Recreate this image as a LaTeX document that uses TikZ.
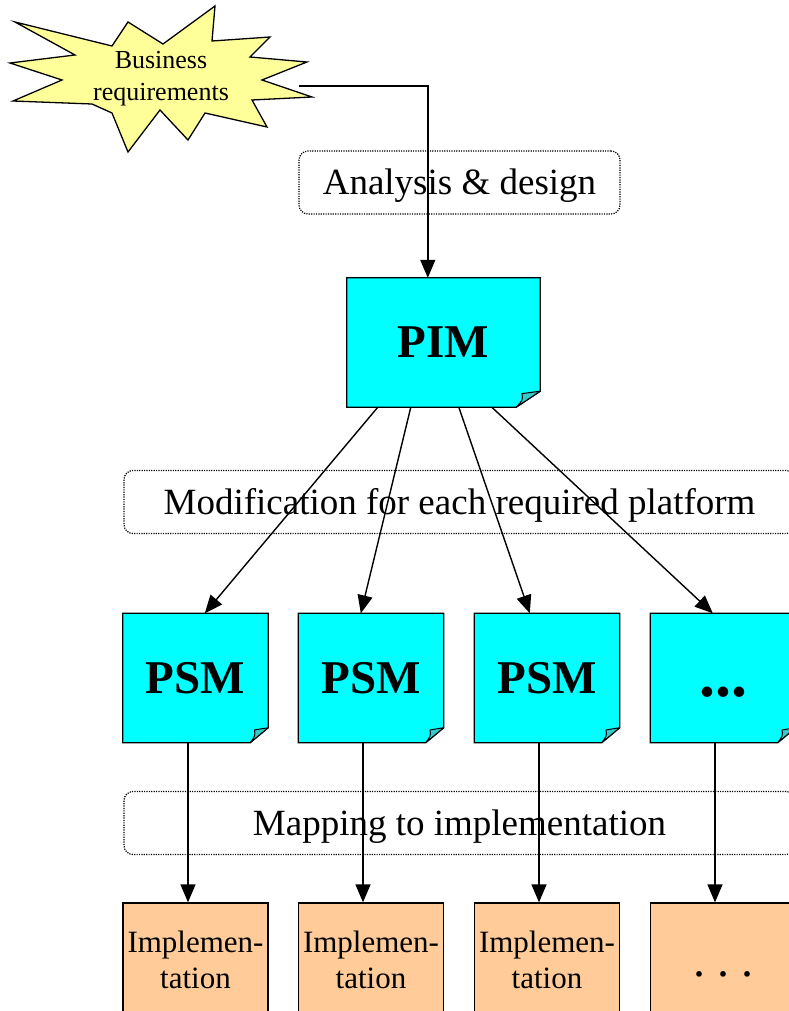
\documentclass[tikz,border=0pt]{standalone}
\usepackage{fontspec}
\setmainfont{Liberation Serif}
\usetikzlibrary{arrows.meta,calc,backgrounds}
\definecolor{notefill}{HTML}{00FFFF}
\definecolor{flapfill}{HTML}{33CCCC}
\definecolor{implfill}{HTML}{FFCC99}
\definecolor{starfill}{HTML}{FFFF99}
% note with a turned-down corner at the lower right: node, corner width, corner height
\newcommand\notebox[3]{%
  \draw[line width=1.3pt, fill=notefill, line join=miter] (#1.north west) -- (#1.north east)
    -- ($(#1.south east)+(0,-#3)$) -- ($(#1.south east)+(-#2,0)$) -- (#1.south west) -- cycle;
  \draw[line width=1pt, fill=flapfill, line join=round] ($(#1.south east)+(-#2,0)$)
    .. controls ($(#1.south east)+(-0.72*#2,-0.45*#3)$) .. ($(#1.south east)+(-0.76*#2,-0.85*#3)$)
    -- ($(#1.south east)+(0,-#3)$) -- cycle;
}
\begin{document}
\begin{tikzpicture}[x=1pt,y=-1pt,
  arr/.style={draw=black, line width=1.4pt, -{Triangle[length=18pt,width=15pt]}},
  phase/.style={draw=black, line width=1.2pt, dash pattern=on 1.2pt off 1.2pt,
    rounded corners=9pt, minimum height=63pt, inner sep=0pt,
    text height=26pt, text depth=1.6pt,
    font=\fontsize{37}{40}\selectfont},
  model/.style={minimum width=145pt, minimum height=129pt, inner sep=0pt,
    font=\bfseries\fontsize{47}{50}\selectfont},
  impl/.style={draw=black, line width=1.3pt, fill=implfill, minimum width=145pt,
    minimum height=114pt, inner sep=0pt, align=center,
    font=\fontsize{31}{36}\selectfont},
]
\useasboundingbox (0,0) rectangle (789,1011);

% starburst
\draw[line width=1.3pt, fill=starfill, line join=miter]
  (15,22) -- (112,46) -- (128,22) -- (163,44) -- (215,6) -- (212,41) -- (270,37)
  -- (250,57) -- (307,62) -- (262,80) -- (312,97) -- (252,100) -- (267,127)
  -- (205,113) -- (188,140) -- (160,110) -- (128,152) -- (112,113) -- (92,104)
  -- (13,101) -- (62,80) -- (10,63) -- (75,55) -- cycle;
\node[font=\fontsize{26}{32}\selectfont, align=center, inner sep=0pt] (biz) at (161,79) {Business\\requirements};
\coordinate (bizr) at (299,86);

% phase labels
\node[phase, minimum width=321pt] (ana) at (459.5,182.5) {Analysis \& design};
\node[phase, minimum width=671pt] (mod) at (459.5,502) {Modification for each required platform};
\node[phase, minimum width=671pt] (map) at (459.5,823) {Mapping to implementation};

% models
\node[model, minimum width=193pt] (pim) at (443.5,342.5) {PIM};
\node[model] (psm1) at (195.5,678) {PSM};
\node[model] (psm2) at (371,678) {PSM};
\node[model] (psm3) at (547,678) {PSM};
\node[model] (psm4) at (723,678) {};
\node[font=\bfseries\fontsize{64}{64}\selectfont, anchor=base, inner sep=0pt] (psm4dots) at (723,696) {...};

\begin{scope}[on background layer]
  \notebox{pim}{24}{16}
  \notebox{psm1}{18}{15}
  \notebox{psm2}{18}{15}
  \notebox{psm3}{18}{15}
  \notebox{psm4}{18}{15}
\end{scope}

% implementations
\node[impl] (impl1) at (195.5,960) {Implemen-\\tation};
\node[impl] (impl2) at (371,960) {Implemen-\\tation};
\node[impl] (impl3) at (547,960) {Implemen-\\tation};
\node[impl] (impl4) at (723,960) {};
\node[font=\fontsize{48}{48}\selectfont, anchor=base, inner sep=0pt] (impl4dots) at (723,976) {.\ .\ .};

% connectors
\draw[arr] (bizr) -| ($(pim.north west)+(81,0)$);
\draw[arr] ($(pim.south west)+(31,0)$) -- ($(psm1.north west)+(82,0)$);
\draw[arr] ($(pim.south west)+(64,0)$) -- ($(psm2.north west)+(62.5,0)$);
\draw[arr] ($(pim.south west)+(112,0)$) -- ($(psm3.north west)+(55.5,0)$);
\draw[arr] ($(pim.south west)+(145,0)$) -- ($(psm4.north west)+(62.5,0)$);
\foreach \k/\d in {1/-7.5,2/-8,3/-8,4/-8}
  \draw[arr] ($(psm\k.south)+(\d,0)$) -- ($(impl\k.north)+(\d,0)$);
\end{tikzpicture}
\end{document}
